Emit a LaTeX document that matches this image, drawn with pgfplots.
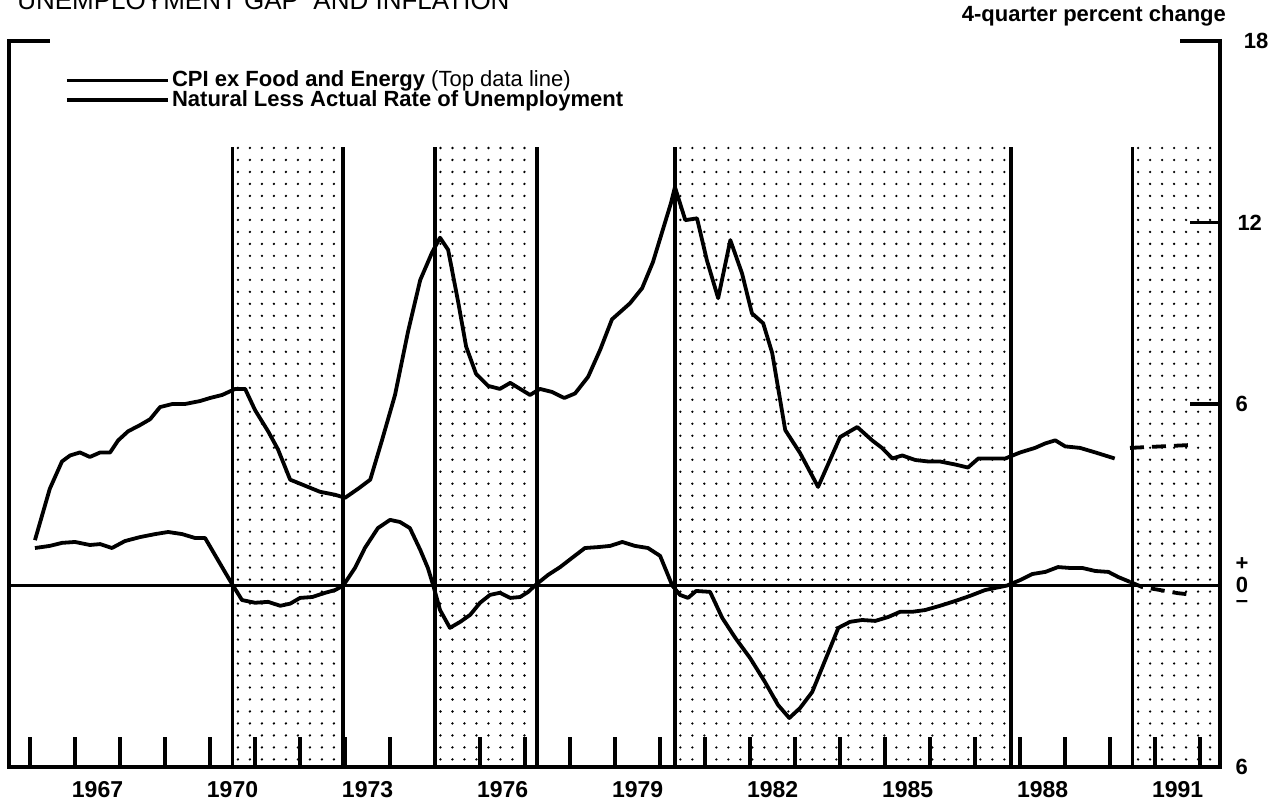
\documentclass[border=0pt]{standalone}
\usepackage{fontspec}
\setmainfont{Liberation Sans}
\usepackage{pgfplots}
\pgfplotsset{compat=1.18}

% 1 px of the reference = 0.5pt
\pgfplotstableread{
t v
1966.11 1.5
1966.44 3.2
1966.71 4.1
1966.89 4.3
1967.11 4.4
1967.33 4.25
1967.56 4.4
1967.78 4.4
1967.96 4.8
1968.18 5.1
1968.44 5.3
1968.67 5.5
1968.89 5.9
1969.16 6.0
1969.44 6.0
1969.78 6.1
1970.00 6.2
1970.27 6.3
1970.56 6.5
1970.78 6.5
1971.00 5.8
1971.29 5.1
1971.51 4.5
1971.78 3.5
1972.11 3.3
1972.44 3.1
1972.78 3.0
1973.00 2.9
1973.29 3.2
1973.56 3.5
1973.82 4.8
1974.11 6.3
1974.40 8.4
1974.67 10.1
1974.93 11.0
1975.11 11.5
1975.29 11.1
1975.51 9.4
1975.69 7.9
1975.91 7.0
1976.18 6.6
1976.44 6.5
1976.67 6.7
1976.89 6.5
1977.11 6.3
1977.33 6.5
1977.60 6.4
1977.87 6.2
1978.11 6.35
1978.40 6.9
1978.67 7.8
1978.93 8.8
1979.33 9.33
1979.60 9.83
1979.84 10.69
1980.07 11.81
1980.24 12.64
1980.33 13.17
1980.56 12.08
1980.82 12.14
1981.04 10.75
1981.29 9.5
1981.56 11.42
1981.82 10.32
1982.04 9.0
1982.29 8.67
1982.49 7.69
1982.78 5.14
1983.11 4.38
1983.51 3.26
1984.00 4.91
1984.38 5.24
1984.71 4.8
1984.93 4.55
1985.16 4.2
1985.38 4.3
1985.67 4.15
1985.96 4.1
1986.22 4.1
1986.56 4.0
1986.84 3.9
1987.07 4.2
1987.33 4.2
1987.67 4.2
1988.00 4.4
1988.33 4.55
1988.56 4.7
1988.78 4.8
1989.00 4.6
1989.33 4.55
1989.67 4.4
1990.10 4.2
}\cpi

\pgfplotstableread{
t v
1966.11 1.24
1966.44 1.31
1966.71 1.41
1967.00 1.44
1967.33 1.34
1967.56 1.37
1967.82 1.24
1968.11 1.47
1968.44 1.6
1968.78 1.7
1969.07 1.77
1969.38 1.7
1969.67 1.57
1969.89 1.57
1970.11 1.01
1970.33 0.45
1970.51 0.0
1970.71 -0.48
1971.00 -0.57
1971.29 -0.54
1971.56 -0.67
1971.78 -0.6
1972.00 -0.41
1972.27 -0.38
1972.56 -0.24
1972.78 -0.15
1972.96 0.0
1973.22 0.58
1973.44 1.24
1973.73 1.9
1974.00 2.17
1974.22 2.1
1974.44 1.9
1974.67 1.18
1974.84 0.58
1974.96 0.0
1975.11 -0.81
1975.33 -1.4
1975.56 -1.2
1975.78 -0.97
1976.00 -0.57
1976.22 -0.31
1976.44 -0.24
1976.67 -0.41
1976.89 -0.38
1977.07 -0.21
1977.22 0.0
1977.51 0.35
1977.78 0.61
1978.04 0.91
1978.33 1.24
1978.62 1.27
1978.89 1.31
1979.16 1.44
1979.44 1.31
1979.73 1.24
1980.00 0.98
1980.27 0.0
1980.44 -0.31
1980.62 -0.41
1980.80 -0.18
1981.11 -0.21
1981.38 -1.07
1981.67 -1.73
1982.00 -2.4
1982.33 -3.19
1982.62 -3.95
1982.87 -4.38
1983.11 -4.05
1983.38 -3.52
1983.67 -2.46
1983.96 -1.4
1984.22 -1.2
1984.49 -1.14
1984.78 -1.17
1985.07 -1.04
1985.33 -0.87
1985.60 -0.87
1985.89 -0.81
1986.22 -0.67
1986.56 -0.51
1986.89 -0.34
1987.22 -0.15
1987.71 0.0
1988.00 0.18
1988.27 0.38
1988.56 0.45
1988.84 0.61
1989.11 0.58
1989.38 0.58
1989.67 0.48
1989.96 0.45
1990.18 0.28
1990.44 0.12
}\gap

\begin{document}
\begin{tikzpicture}[font=\fontsize{11}{13}\selectfont\bfseries]
\begin{axis}[
  scale only axis,
  width=605.35pt, height=362.95pt,
  xmin=1965.54, xmax=1992.44,
  ymin=-6, ymax=18,
  axis line style={draw=none},
  xtick={1966,...,1992}, xticklabels={},
  xtick pos=left, xtick align=inside,
  major tick length=15pt,
  x tick style={line width=1.6pt, black},
  ytick=\empty,
  clip=false,
]
% dot screen of the periods with a negative gap (rows 6pt apart)
\pgfplotsinvokeforeach{-5.75,-5.3536,...,14.3}{
  \draw[line width=1.3pt, line cap=round, dash pattern=on 0pt off 6pt]
    (axis cs:1970.62,#1) -- (axis cs:1972.93,#1)
    (axis cs:1975.12,#1) -- (axis cs:1977.24,#1)
    (axis cs:1980.45,#1) -- (axis cs:1987.77,#1)
    (axis cs:1990.62,#1) -- (axis cs:1992.3,#1);
}
\addplot[black, line width=1.8pt] coordinates {(1970.5,-6) (1970.5,14.5)};
\addplot[black, line width=1.8pt] coordinates {(1972.96,-6) (1972.96,14.5)};
\addplot[black, line width=1.8pt] coordinates {(1975.0,-6) (1975.0,14.5)};
\addplot[black, line width=1.8pt] coordinates {(1977.27,-6) (1977.27,14.5)};
\addplot[black, line width=1.8pt] coordinates {(1980.33,-6) (1980.33,14.5)};
\addplot[black, line width=1.8pt] coordinates {(1987.8,-6) (1987.8,14.5)};
\addplot[black, line width=1.8pt] coordinates {(1990.5,-6) (1990.5,14.5)};

% zero line
\addplot[black, line width=1.7pt] coordinates {(1965.54,0) (1992.44,0)};

% frame: left, bottom, right, with short top corners
\draw[line width=2pt, line join=miter]
  (axis cs:1966.44,18) -- (axis cs:1965.54,18) -- (axis cs:1965.54,-6)
  -- (axis cs:1992.44,-6) -- (axis cs:1992.44,18) -- (axis cs:1991.56,18);
\draw[line width=1.7pt] (axis cs:1992.44,12) -- (axis cs:1991.78,12);
\draw[line width=1.7pt] (axis cs:1992.44,6) -- (axis cs:1991.78,6);

% data
\addplot[black, line width=1.9pt, line join=round] table[x=t, y=v] {\cpi};
\addplot[black, line width=1.9pt, line join=round] table[x=t, y=v] {\gap};
\addplot[black, line width=1.9pt, dash pattern=on 7pt off 4pt] coordinates {(1990.44,4.55) (1991.84,4.65)};
\addplot[black, line width=1.9pt, dash pattern=on 7pt off 4pt] coordinates {(1990.44,0.12) (1990.71,-0.05) (1991.11,-0.15) (1991.49,-0.25) (1991.84,-0.31)};

% year labels, centred on each year
\begin{scope}[font=\fontsize{11.5}{13}\selectfont\bfseries]
\node at (axis cs:1967.5,-6.74) {1967};
\node at (axis cs:1970.5,-6.74) {1970};
\node at (axis cs:1973.5,-6.74) {1973};
\node at (axis cs:1976.5,-6.74) {1976};
\node at (axis cs:1979.5,-6.74) {1979};
\node at (axis cs:1982.5,-6.74) {1982};
\node at (axis cs:1985.5,-6.74) {1985};
\node at (axis cs:1988.5,-6.74) {1988};
\node at (axis cs:1991.5,-6.74) {1991};
\end{scope}

% right-hand scale
\node[anchor=west, inner sep=0pt] at (axis cs:1992.96,18) {18};
\node[anchor=west, inner sep=0pt] at (axis cs:1992.82,12) {12};
\node[anchor=west, inner sep=0pt] at (axis cs:1992.78,6) {6};
\node[anchor=west, inner sep=0pt] at (axis cs:1992.78,-6) {6};
\node[inner sep=0pt] at (axis cs:1992.93,0.70) {+};
\node[inner sep=0pt] at (axis cs:1992.93,0.03) {0};
\node[inner sep=0pt] at (axis cs:1992.93,-0.62) {--};

\node[anchor=east, inner sep=0pt] at (axis cs:1992.58,18.85) {4-quarter percent change};
\node[anchor=base west, inner sep=0pt, font=\fontsize{13}{15}\selectfont\mdseries] at (axis cs:1965.71,19.05) {UNEMPLOYMENT GAP\ \ AND INFLATION};

% legend
\draw[line width=1.9pt] (axis cs:1966.82,16.70) -- (axis cs:1969.07,16.70)
  node[anchor=west, inner sep=1pt] {CPI ex Food and Energy {\mdseries (Top data line)}};
\draw[line width=1.9pt] (axis cs:1966.82,16.04) -- (axis cs:1969.07,16.04)
  node[anchor=west, inner sep=1pt] {Natural Less Actual Rate of Unemployment};

\coordinate (bl) at (axis cs:1965.54,-6);
\coordinate (tr) at (axis cs:1992.44,18);
\end{axis}
\pgfresetboundingbox
\path ([shift={(-4.65pt,-20.5pt)}]bl) rectangle ([shift={(27.5pt,20.55pt)}]tr);
\end{tikzpicture}
\end{document}
